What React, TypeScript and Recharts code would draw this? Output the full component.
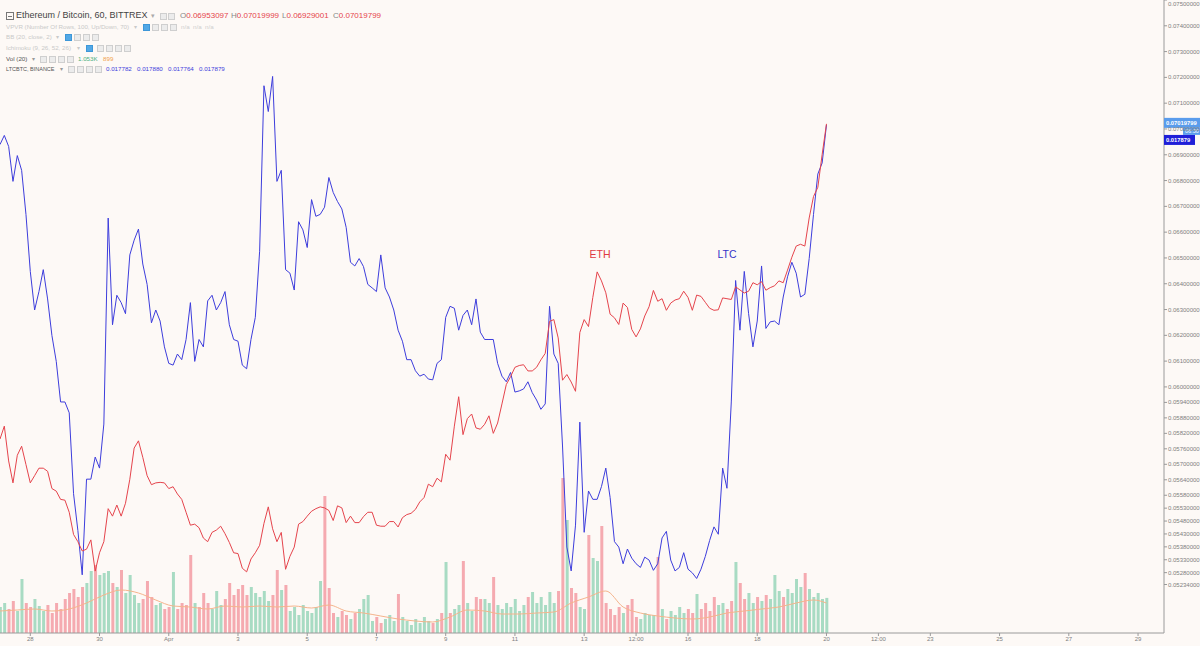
import { ComposedChart, Line, Bar, Cell, XAxis, YAxis, ReferenceDot } from 'recharts';

// 60-min ETH/BTC chart with LTC/BTC overlay, sampled every 3 hours from Mar 27 03:00
const START_HOUR = 3;
const STEP_HOURS = 3;

const ETH = [
  0.05798, 0.05848, 0.05713, 0.05628, 0.05735, 0.05770, 0.05699, 0.05628, 0.05656, 0.05685,
  0.05685, 0.05673, 0.05606, 0.05596, 0.05564, 0.05561, 0.05514, 0.05428, 0.05400, 0.05364,
  0.05371, 0.05407, 0.05286, 0.05357, 0.05400, 0.05528, 0.05499, 0.05542, 0.05499, 0.05549,
  0.05642, 0.05763, 0.05791, 0.05727, 0.05656, 0.05621, 0.05628, 0.05630, 0.05628, 0.05606,
  0.05613, 0.05585, 0.05564, 0.05514, 0.05464, 0.05468, 0.05454, 0.05414, 0.05400, 0.05436,
  0.05445, 0.05460, 0.05431, 0.05397, 0.05357, 0.05354, 0.05297, 0.05283, 0.05333, 0.05357,
  0.05386, 0.05471, 0.05535, 0.05450, 0.05400,
  0.05436, 0.05293, 0.05343, 0.05379, 0.05468,
  0.05478, 0.05499, 0.05518, 0.05528, 0.05535, 0.05531, 0.05521, 0.05482, 0.05539, 0.05531,
  0.05474, 0.05499, 0.05474, 0.05474, 0.05497, 0.05514, 0.05514, 0.05464, 0.05460, 0.05460,
  0.05478, 0.05478, 0.05457, 0.05493, 0.05505, 0.05510, 0.05525, 0.05554, 0.05571, 0.05623,
  0.05613, 0.05646, 0.05632, 0.05739, 0.05716, 0.05848, 0.05962, 0.05815, 0.05877, 0.05895,
  0.05841, 0.05836, 0.05855, 0.05888, 0.05820, 0.05860, 0.05934, 0.06009, 0.06040, 0.06076,
  0.06083, 0.06086, 0.06062, 0.06062, 0.06076, 0.06105, 0.06130, 0.06254, 0.06261, 0.06190,
  0.06026, 0.06048, 0.06019, 0.05983, 0.06211, 0.06261, 0.06234, 0.06347, 0.06446, 0.06411,
  0.06365, 0.06282, 0.06268, 0.06242, 0.06325, 0.06308, 0.06223, 0.06194, 0.06225, 0.06275,
  0.06311, 0.06374, 0.06332, 0.06342, 0.06297, 0.06325, 0.06337, 0.06342, 0.06371, 0.06347,
  0.06297, 0.06356, 0.06351, 0.06328, 0.06305, 0.06297, 0.06299, 0.06345, 0.06342, 0.06339,
  0.06388, 0.06376, 0.06364, 0.06371, 0.06404, 0.06396, 0.06408, 0.06375, 0.06385, 0.06392,
  0.06411, 0.06404, 0.06453, 0.06503, 0.06546, 0.06553, 0.06546, 0.06655, 0.06738, 0.06774,
  0.06901, 0.070198,
];

const LTC = [
  0.017778, 0.017825, 0.017768, 0.017588, 0.017721, 0.017645, 0.017418, 0.017124, 0.016925, 0.017020,
  0.017133, 0.016982, 0.016793, 0.016660, 0.016451, 0.016451, 0.016395, 0.015978, 0.015788, 0.015560,
  0.016053, 0.016053, 0.016167, 0.016110, 0.016337, 0.017399, 0.016849, 0.017001, 0.016963, 0.016906,
  0.017209, 0.017285, 0.017342, 0.017162, 0.017057, 0.016859, 0.016925, 0.016868, 0.016735, 0.016650,
  0.016641, 0.016698, 0.016669, 0.016773, 0.016963, 0.016660, 0.016773, 0.016735, 0.016972, 0.017001,
  0.016925, 0.016963, 0.017020, 0.016849, 0.016773, 0.016764, 0.016641, 0.016622, 0.016773, 0.016887,
  0.017228, 0.018081, 0.017948, 0.018129, 0.017588,
  0.017645, 0.017133, 0.017115, 0.017028, 0.017380,
  0.017338, 0.017247, 0.017494, 0.017408, 0.017418, 0.017455, 0.017608, 0.017531, 0.017484, 0.017446,
  0.017351, 0.017171, 0.017152, 0.017190, 0.017149, 0.017057, 0.017039, 0.017020, 0.017209, 0.017039,
  0.016992, 0.016925, 0.016821, 0.016764, 0.016669, 0.016669, 0.016612, 0.016584, 0.016594, 0.016569,
  0.016565, 0.016650, 0.016669, 0.016887, 0.016944, 0.016934, 0.016821, 0.016897, 0.016925, 0.016849,
  0.016982, 0.016811, 0.016773, 0.016773, 0.016773, 0.016650, 0.016584, 0.016555, 0.016603, 0.016502,
  0.016508, 0.016518, 0.016555, 0.016499, 0.016461, 0.016413, 0.016441, 0.016944, 0.016698, 0.016650,
  0.016224, 0.015703, 0.015580, 0.015816, 0.016347, 0.015779, 0.015992, 0.015949, 0.015949, 0.016015,
  0.016110, 0.015958, 0.015731, 0.015703, 0.015617, 0.015693, 0.015646, 0.015617, 0.015598, 0.015651,
  0.015636, 0.015583, 0.015617, 0.015750, 0.015784, 0.015636, 0.015580, 0.015598, 0.015674, 0.015589,
  0.015570, 0.015541, 0.015589, 0.015655, 0.015737, 0.015807, 0.015769, 0.016110, 0.016006, 0.016451,
  0.017077, 0.016821, 0.017124, 0.016906, 0.016735, 0.016868, 0.017152, 0.016830, 0.016864, 0.016868,
  0.016849, 0.016992, 0.017096, 0.017171, 0.017115, 0.016992, 0.017006, 0.017190, 0.017418, 0.017626,
  0.017683, 0.017879,
];

const VOLUME = [
  780, 900, 720, 960, 660, 1620, 900, 780, 1020, 810,
  660, 840, 600, 900, 720, 1020, 1200, 1320, 1080, 1380,
  1500, 1860, 2040, 1740, 1800, 1860, 1500, 1380, 1890, 1200,
  1740, 1140, 900, 1020, 1560, 1080, 840, 900, 720, 780,
  1830, 720, 900, 840, 2340, 900, 780, 1200, 900, 720,
  1260, 840, 1020, 1500, 1140, 1320, 1440, 1140, 1380, 1200,
  1080, 1260, 960, 1140, 1890,
  1290, 1440, 660, 780, 540,
  840, 660, 600, 780, 1560, 4110, 1350, 600, 480, 660,
  540, 420, 600, 720, 1020, 1140, 360, 480, 300, 420,
  540, 360, 1170, 480, 360, 240, 420, 300, 480, 360,
  300, 420, 600, 2130, 600, 720, 840, 2160, 900, 660,
  1080, 1020, 1020, 900, 1680, 840, 720, 900, 780, 1020,
  660, 840, 1080, 1230, 900, 1080, 840, 1230, 900, 1260,
  4650, 3390, 1350, 1200, 780, 720, 2940, 2250, 2160, 3210,
  900, 720, 540, 780, 600, 840, 1020, 480, 420, 600,
  540, 540, 2280, 720, 420, 660, 540, 780, 600, 720,
  600, 1170, 720, 900, 660, 1080, 840, 900, 720, 960,
  2130, 1500, 1020, 1200, 900, 1080, 960, 1140, 1020, 1740,
  1260, 1080, 1320, 1200, 1620, 1380, 1800, 1320, 1080, 1200,
  1020, 1053,
];

// Vol (20) moving average, read every 4th bar; the last entry is the final bar
const VOLUME_MA = [
  660, 690, 720, 660, 720, 900, 1140, 1290, 1200, 990,
  810, 780, 720, 810, 780, 810, 780, 810, 750, 840,
  660, 600, 510, 420, 360, 330, 480, 690, 660, 570,
  570, 600, 630, 900, 1080, 1260, 780, 600, 510, 450,
  420, 480, 600, 660, 720, 780, 900, 990, 899,
];

const TIME_TICKS = [24, 72, 120, 168, 216, 264, 312, 360, 408, 444, 480, 528, 576, 612, 648, 696, 744, 792];
const TIME_LABELS = ['28', '30', 'Apr', '3', '5', '7', '9', '11', '13', '12:00', '16', '18', '20', '12:00', '23', '25', '27', '29'];

const PRICE_TICKS = [
  0.075, 0.074, 0.073, 0.072, 0.071, 0.070, 0.069, 0.068, 0.067, 0.066, 0.065, 0.064, 0.063, 0.062, 0.061,
  0.060, 0.0594, 0.0588, 0.0582, 0.0576, 0.057, 0.0564, 0.0558, 0.0553, 0.0548, 0.0543, 0.0538, 0.0533,
  0.0528, 0.05234,
];

const ETH_LAST = 0.07019799;
const LTC_LAST = 0.017879;
const ETH_OHLC = ['0.06953097', '0.07019999', '0.06929001', '0.07019799'];
const LTC_OHLC = ['0.017782', '0.017880', '0.017764', '0.017879'];

const BG = '#fdf9f6';
const ETH_COLOR = '#e5444c';
const LTC_COLOR = '#3d3ddc';
const UP_VOL = '#a8dbc3';
const DOWN_VOL = '#f5aab0';
const FONT = '"Liberation Sans", Arial, sans-serif';

const data = ETH.map((eth, i) => ({
  hour: START_HOUR + i * STEP_HOURS,
  eth,
  ltc: LTC[i],
  vol: VOLUME[i],
  volMa: i % 4 === 0 ? VOLUME_MA[i / 4] : i === ETH.length - 1 ? VOLUME_MA[VOLUME_MA.length - 1] : null,
  up: i === 0 || eth >= ETH[i - 1],
}));

function Txt({ x, y, size, color, children, weight = 'normal' }) {
  return (
    <div style={{
      position: 'absolute', left: x, top: y - size / 2, fontSize: size, lineHeight: `${size}px`,
      color, fontWeight: weight, whiteSpace: 'nowrap', fontFamily: FONT,
    }}>
      {children}
    </div>
  );
}

function Box({ x, y, blue = false }) {
  return (
    <div style={{
      position: 'absolute', left: x, top: y - 3, width: 5, height: 5,
      border: `1px solid ${blue ? '#3d97d8' : '#cfcfcf'}`, background: blue ? '#52a8e6' : '#ececec',
    }} />
  );
}

// right-axis label, kept inside the picture at the very top
function PriceTick({ x, y, payload }) {
  return (
    <text x={x} y={Math.max(y, 4)} dy="0.35em" fontSize={6} fill="#808080" fontFamily={FONT}>
      {payload.value.toFixed(8)}
    </text>
  );
}

function PriceTag({ cx, cy, text, fill, dy = 0, width = 36 }) {
  return (
    <g>
      <rect x={cx} y={cy + dy - 5} width={width} height={10} fill={fill} />
      <text x={cx + 2} y={cy + dy} dy="0.35em" fontSize={5.8} fontWeight="bold" fill="#fff" fontFamily={FONT}>
        {text}
      </text>
    </g>
  );
}

function Legend() {
  return (
    <>
      <div style={{ position: 'absolute', left: 6, top: 12, width: 6, height: 6, border: '1px solid #777' }}>
        <div style={{ position: 'absolute', left: 1, top: 2.5, width: 4, height: 1, background: '#777' }} />
      </div>
      <Txt x={16} y={15.7} size={9} color="#444">Ethereum / Bitcoin, 60, BITTREX</Txt>
      <Txt x={151} y={15.7} size={7} color="#aaa">▾</Txt>
      <Box x={160} y={15.7} />
      <Box x={168} y={15.7} />
      {['O', 'H', 'L', 'C'].map((k, i) => (
        <Txt key={k} x={180 + i * 51} y={15.7} size={8} color="#888">
          {k}<span style={{ color: ETH_COLOR }}>{ETH_OHLC[i]}</span>
        </Txt>
      ))}

      <Txt x={6} y={26.7} size={6.2} color="#c9c9c9">VPVR (Number Of Rows, 100, Up/Down, 70)</Txt>
      <Txt x={134} y={26.7} size={6} color="#c9c9c9">▾</Txt>
      <Box x={143} y={26.7} blue />
      <Box x={152} y={26.7} />
      <Box x={161} y={26.7} />
      <Box x={170} y={26.7} />
      <Txt x={181} y={26.7} size={6.2} color="#cfcfcf">n/a&nbsp;&nbsp;n/a&nbsp;&nbsp;n/a</Txt>

      <Txt x={6} y={36.7} size={6.2} color="#c9c9c9">BB (20, close, 2)</Txt>
      <Txt x={56} y={36.7} size={6} color="#c9c9c9">▾</Txt>
      <Box x={65} y={36.7} blue />
      <Box x={74} y={36.7} />
      <Box x={83} y={36.7} />
      <Box x={92} y={36.7} />

      <Txt x={6} y={47.7} size={6.2} color="#c9c9c9">Ichimoku (9, 26, 52, 26)</Txt>
      <Txt x={77} y={47.7} size={6} color="#c9c9c9">▾</Txt>
      <Box x={86} y={47.7} blue />
      <Box x={97} y={47.7} />
      <Box x={106} y={47.7} />
      <Box x={115} y={47.7} />
      <Box x={124} y={47.7} />

      <Txt x={6} y={58.7} size={6.2} color="#555">Vol (20)</Txt>
      <Txt x={32} y={58.7} size={6} color="#999">▾</Txt>
      <Box x={40} y={58.7} />
      <Box x={49} y={58.7} />
      <Box x={58} y={58.7} />
      <Box x={67} y={58.7} />
      <Txt x={78} y={58.7} size={6.2} color="#4caf80">1.053K</Txt>
      <Txt x={103} y={58.7} size={6.2} color="#f0a04b">899</Txt>

      <Txt x={6} y={69.3} size={5.5} color="#555">LTCBTC, BINANCE</Txt>
      <Txt x={60} y={69.3} size={6} color="#999">▾</Txt>
      <Box x={68} y={69.3} />
      <Box x={77} y={69.3} />
      <Box x={86} y={69.3} />
      <Box x={95} y={69.3} />
      {LTC_OHLC.map((v, i) => (
        <Txt key={i} x={106 + i * 31} y={69.3} size={6.2} color={LTC_COLOR}>{v}</Txt>
      ))}
    </>
  );
}

export default function App() {
  const axisTick = { fontSize: 6, fill: '#808080', fontFamily: FONT };
  return (
    <div style={{ position: 'fixed', left: 0, top: 0, width: 1200, height: 646, background: BG, overflow: 'hidden' }}>
      <ComposedChart width={1200} height={646} data={data} margin={{ top: 0, right: 0, bottom: 0, left: 0 }}>
        <XAxis
          dataKey="hour" type="number" domain={[3, 810]} allowDataOverflow
          ticks={TIME_TICKS} interval={0}
          tickFormatter={(v) => TIME_LABELS[TIME_TICKS.indexOf(v)] ?? ''}
          height={13} tickSize={3} tickMargin={1} tick={axisTick}
          axisLine={{ stroke: '#9a9a9a' }} tickLine={{ stroke: '#9a9a9a' }}
        />
        <YAxis
          yAxisId="eth" orientation="right" type="number" domain={[0.05046, 0.075]} allowDataOverflow
          ticks={PRICE_TICKS} interval={0} width={36}
          tickSize={3} tickMargin={1} tick={<PriceTick />}
          axisLine={{ stroke: '#9a9a9a' }} tickLine={{ stroke: '#9a9a9a' }}
        />
        <YAxis yAxisId="ltc" hide type="number" domain={[0.01526, 0.018523]} allowDataOverflow />
        <YAxis yAxisId="vol" hide type="number" domain={[0, 18990]} allowDataOverflow />

        <Bar yAxisId="vol" dataKey="vol" barSize={3} isAnimationActive={false}>
          {data.map((d, i) => <Cell key={i} fill={d.up ? UP_VOL : DOWN_VOL} />)}
        </Bar>
        <Line
          yAxisId="vol" dataKey="volMa" type="monotone" connectNulls stroke="#f5b48c"
          strokeWidth={1} dot={false} activeDot={false} isAnimationActive={false}
        />
        <Line
          yAxisId="ltc" dataKey="ltc" type="linear" stroke={LTC_COLOR}
          strokeWidth={1} dot={false} activeDot={false} isAnimationActive={false}
        />
        <Line
          yAxisId="eth" dataKey="eth" type="linear" stroke={ETH_COLOR}
          strokeWidth={1} dot={false} activeDot={false} isAnimationActive={false}
        />

        <ReferenceDot
          yAxisId="eth" x={419} y={0.06514} r={0} ifOverflow="visible"
          shape={(p) => (
            <text x={p.cx} y={p.cy} dy="0.35em" textAnchor="middle" fontSize={10.5} fill="#df3a42" fontFamily={FONT}>ETH</text>
          )}
        />
        <ReferenceDot
          yAxisId="eth" x={507} y={0.06514} r={0} ifOverflow="visible"
          shape={(p) => (
            <text x={p.cx} y={p.cy} dy="0.35em" textAnchor="middle" fontSize={10.5} fill="#3535c8" fontFamily={FONT}>LTC</text>
          )}
        />
        <ReferenceDot
          yAxisId="eth" x={810} y={ETH_LAST} r={0} ifOverflow="visible"
          shape={(p) => (
            <g>
              <PriceTag cx={p.cx} cy={p.cy} text={ETH_LAST.toFixed(8)} fill="#5a9cec" dy={-1} />
              <rect x={p.cx + 19} y={p.cy + 4} width={17} height={7} fill="#5a9cec" />
              <text x={p.cx + 21} y={p.cy + 7.5} dy="0.35em" fontSize={5.5} fill="#fff" fontFamily={FONT}>06:30</text>
            </g>
          )}
        />
        <ReferenceDot
          yAxisId="ltc" x={810} y={LTC_LAST} r={0} ifOverflow="visible"
          shape={(p) => <PriceTag cx={p.cx} cy={p.cy} text={LTC_LAST.toFixed(6)} fill="#1f1fd8" dy={15} width={31} />}
        />
      </ComposedChart>
      <Legend />
    </div>
  );
}
